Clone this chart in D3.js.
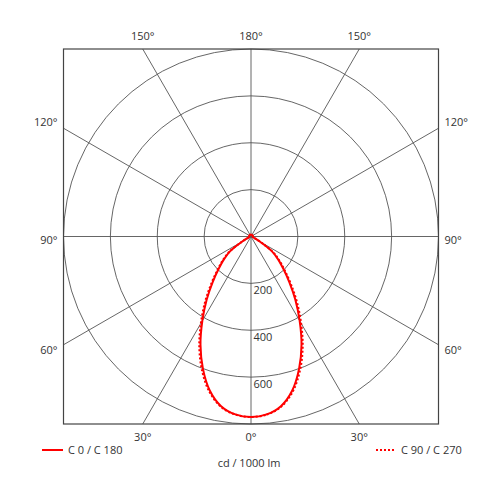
<!DOCTYPE html>
<html>
<head>
<meta charset="utf-8">
<script src="https://cdn.jsdelivr.net/npm/d3@7"></script>
<style>
  body { margin: 0; background: #fff; }
  text { font-family: "Open Sans", "DejaVu Sans", sans-serif; font-size: 11px; fill: #333; }
</style>
</head>
<body>
<svg width="500" height="500"></svg>
<script>
const svg = d3.select("svg");

// gamma angles (degrees from nadir) and intensities in cd / 1000 lm
const gammas = [0, 5, 10, 15, 20, 25, 30, 35, 40, 45, 50, 55, 60, 65, 70, 75, 80, 85, 90,
                100, 110, 120, 130, 140, 150, 160, 170, 180];
const c0c180 = [770, 762, 735, 680, 600, 510, 415, 330, 255, 195, 150, 107, 45, 18, 10, 8, 8, 8, 8,
                8, 8, 8, 8, 8, 8, 8, 8, 8];
const c90c270 = [770, 763, 738, 686, 610, 522, 428, 342, 265, 203, 156, 112, 48, 19, 10, 8, 8, 8, 8,
                 8, 8, 8, 8, 8, 8, 8, 8, 8];

const ringValues = [200, 400, 600, 800];
const ringLabels = [200, 400, 600];
const spokeAngles = [0, 30, 60, 90, 120, 150, 180];
const series = [
  { name: "C 0 / C 180", values: c0c180, dash: null },
  { name: "C 90 / C 270", values: c90c270, dash: "2,2" }
];

const cx = 251, cy = 236.5, R = 187.5;
const r = d3.scaleLinear().domain([0, 800]).range([0, R]);

const g = svg.append("g").attr("transform", `translate(${cx},${cy})`);

// circles
g.selectAll("circle.ring")
  .data(ringValues)
  .join("circle")
  .attr("class", "ring")
  .attr("r", d => r(d))
  .attr("fill", "none")
  .attr("stroke", "#555")
  .attr("stroke-width", 0.9);

// spokes, clipped to the box
const rad = d => d * Math.PI / 180;
function spokeEnd(deg, side) {
  const dx = side * Math.sin(rad(deg)), dy = Math.cos(rad(deg));
  const t = Math.min(Math.abs(dx) > 1e-9 ? R / Math.abs(dx) : Infinity,
                     Math.abs(dy) > 1e-9 ? R / Math.abs(dy) : Infinity);
  return [dx * t, dy * t];
}
spokeAngles.forEach(a => {
  [1, -1].forEach(side => {
    if ((a === 0 || a === 180) && side === -1) return;
    const [x, y] = spokeEnd(a, side);
    g.append("line")
      .attr("x1", 0).attr("y1", 0)
      .attr("x2", x).attr("y2", y)
      .attr("stroke", "#555")
      .attr("stroke-width", 0.9);
  });
});

// frame
svg.append("rect")
  .attr("x", cx - R).attr("y", cy - R)
  .attr("width", 2 * R).attr("height", 2 * R)
  .attr("fill", "none")
  .attr("stroke", "#444")
  .attr("stroke-width", 1.2);

// angle labels
spokeAngles.forEach(a => {
  [1, -1].forEach(side => {
    if ((a === 0 || a === 180) && side === -1) return;
    const [x, y] = spokeEnd(a, side);
    let tx = cx + x, ty = cy + y, anchor = "middle";
    if (Math.abs(y) >= R - 0.01 && Math.abs(x) < R - 0.01) {
      ty = y > 0 ? cy + R + 17 : cy - R - 9;
    } else {
      anchor = side > 0 ? "start" : "end";
      tx = side > 0 ? cx + R + 6 : cx - R - 6;
      ty = cy + y + (y < -1 ? -2 : y > 1 ? 9 : 7.5);
    }
    svg.append("text")
      .attr("x", tx).attr("y", ty)
      .attr("text-anchor", anchor)
      .text(a + "°");
  });
});

// ring value labels
g.selectAll("text.rl")
  .data(ringLabels)
  .join("text")
  .attr("class", "rl")
  .attr("x", 2.5)
  .attr("y", d => r(d) + 11)
  .text(d => d);

// curves
const line = d3.lineRadial()
  .angle(d => d[0])
  .radius(d => r(d[1]))
  .curve(d3.curveCatmullRomClosed);

series.forEach(s => {
  const pts = [];
  // right half: gamma 0..180 ; left half: 180..0
  gammas.forEach((gm, i) => pts.push([Math.PI - rad(gm), s.values[i]]));
  for (let i = gammas.length - 2; i > 0; i--) pts.push([Math.PI + rad(gammas[i]), s.values[i]]);
  g.append("path")
    .attr("d", line(pts))
    .attr("fill", "none")
    .attr("stroke", "#f00")
    .attr("stroke-width", 2)
    .attr("stroke-dasharray", s.dash);
});

// legend
const leg = [
  { x1: 42, x2: 63, tx: 68, s: series[0] },
  { x1: 376, x2: 395, tx: 401, s: series[1] }
];
leg.forEach(l => {
  svg.append("line")
    .attr("x1", l.x1).attr("x2", l.x2)
    .attr("y1", 450).attr("y2", 450)
    .attr("stroke", "#f00")
    .attr("stroke-width", 2)
    .attr("stroke-dasharray", l.s.dash);
  svg.append("text")
    .attr("x", l.tx).attr("y", 454)
    .text(l.s.name);
});

svg.append("text")
  .attr("x", 249).attr("y", 467)
  .attr("text-anchor", "middle")
  .text("cd / 1000 lm");
</script>
</body>
</html>
